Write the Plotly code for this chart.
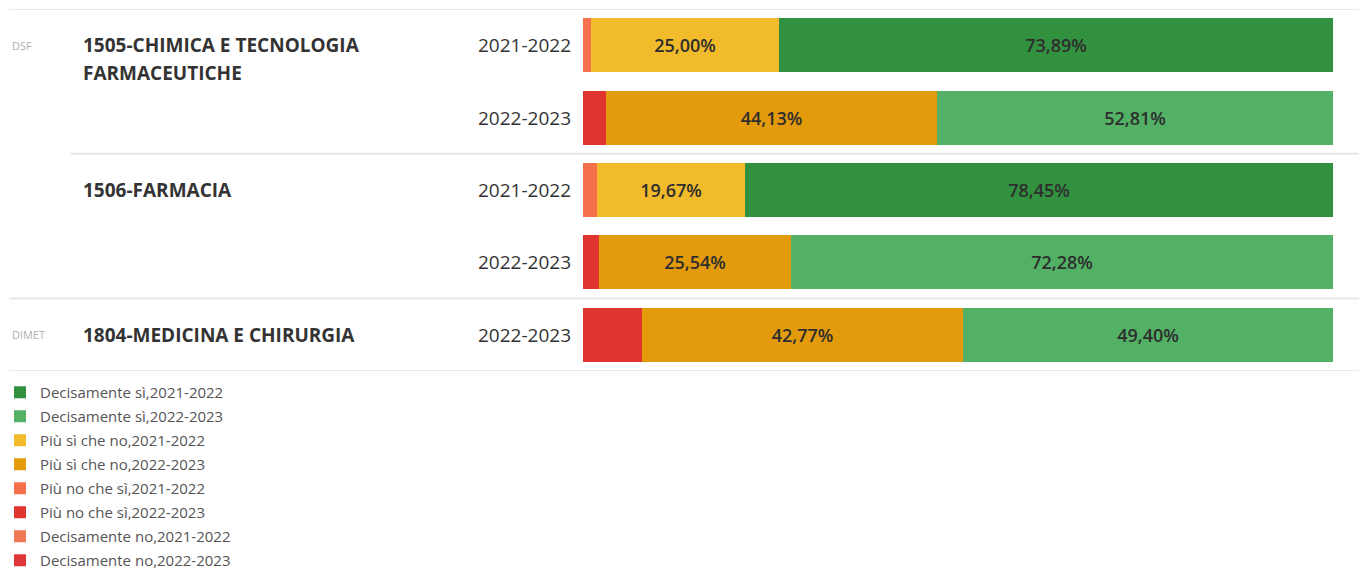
import plotly.graph_objects as go

# ---------------- data ----------------
rows = ["1505 | 2021-2022", "1505 | 2022-2023", "1506 | 2021-2022", "1506 | 2022-2023", "1804 | 2022-2023"]
row_years = ["2021-2022", "2022-2023", "2021-2022", "2022-2023", "2022-2023"]

dec_no_21 = [0, 0, 0, 0, 0]
dec_no_22 = [0, 0, 0, 0, 0]
piu_no_21 = [1.11, 0, 1.88, 0, 0]
piu_no_22 = [0, 3.06, 0, 2.18, 7.83]
piu_si_21 = [25.00, 0, 19.67, 0, 0]
piu_si_22 = [0, 44.13, 0, 25.54, 42.77]
dec_si_21 = [73.89, 0, 78.45, 0, 0]
dec_si_22 = [0, 52.81, 0, 72.28, 49.40]

programs = ["1505-CHIMICA E TECNOLOGIA", "FARMACEUTICHE", "1506-FARMACIA", "1804-MEDICINA E CHIRURGIA"]
departments = ["DSF", "DIMET"]

FONT = "Open Sans"

# ---------------- figure ----------------
# (name, values, colour, legend rank) in stacking order from left to right
series = [
    ("Decisamente no,2022-2023", dec_no_22, "#e0383a", 8),
    ("Decisamente no,2021-2022", dec_no_21, "#f07a55", 7),
    ("Più no che sì,2022-2023", piu_no_22, "#e03431", 6),
    ("Più no che sì,2021-2022", piu_no_21, "#f4714b", 5),
    ("Più sì che no,2022-2023", piu_si_22, "#e39b0c", 4),
    ("Più sì che no,2021-2022", piu_si_21, "#f1bb2b", 3),
    ("Decisamente sì,2022-2023", dec_si_22, "#52b164", 2),
    ("Decisamente sì,2021-2022", dec_si_21, "#31913f", 1),
]


def fmt(v):
    return (f"{v:.2f}".replace(".", ",") + "%") if v >= 10 else ""


fig = go.Figure()
for name, vals, color, rank in series:
    fig.add_trace(go.Bar(
        y=list(range(len(rows))), x=vals, orientation="h", name=name,
        marker=dict(color=color, line=dict(width=0)),
        text=[fmt(v) for v in vals], textposition="inside", insidetextanchor="middle",
        textfont=dict(size=18, color="#2e2e2e", family=FONT, weight=600),
        legendrank=rank, legendgroup=name, width=0.745,
        hoverinfo="skip",
    ))

fig.update_layout(
    barmode="stack",
    width=1359, height=571,
    margin=dict(l=583, r=26, t=9, b=200),
    plot_bgcolor="white", paper_bgcolor="white",
    font=dict(family=FONT, color="#333333"),
    xaxis=dict(range=[0, 100], visible=False, fixedrange=True),
    yaxis=dict(range=[4.5, -0.5], visible=False, fixedrange=True),
    showlegend=True,
    legend=dict(
        xref="container", yref="container", x=0.0, y=1 - 376 / 571,
        xanchor="left", yanchor="top",
        font=dict(size=15, color="#555555", family=FONT),
        tracegroupgap=1.5, itemwidth=30, bgcolor="rgba(0,0,0,0)",
        maxheight=1000,
    ),
    bargap=0,
)

# separators (row boundaries)
line_col = "#e8e8e8"
for yv, x0 in [(-0.5, -0.765), (1.5, -0.684), (3.5, -0.765), (4.5, -0.765)]:
    fig.add_shape(type="line", xref="paper", yref="y", x0=x0, x1=1.035, y0=yv, y1=yv,
                  line=dict(color=line_col, width=2), layer="below")

# year labels
for i, yr in enumerate(row_years):
    fig.add_annotation(xref="paper", yref="y", x=-0.014, y=i, text=yr, showarrow=False,
                       xanchor="right", yanchor="middle",
                       font=dict(size=19, color="#333333", family=FONT))

# program labels
prog_x = (81 - 583) / 750
prog_font = dict(size=19, color="#333333", family=FONT)
fig.add_annotation(xref="paper", yref="y", x=prog_x, y=0, text="<b>" + programs[0] + "</b>",
                   showarrow=False, xanchor="left", yanchor="middle", font=prog_font)
fig.add_annotation(xref="paper", yref="y", x=prog_x, y=0, yshift=-28, text="<b>" + programs[1] + "</b>",
                   showarrow=False, xanchor="left", yanchor="middle", font=prog_font)
fig.add_annotation(xref="paper", yref="y", x=prog_x, y=2, text="<b>" + programs[2] + "</b>",
                   showarrow=False, xanchor="left", yanchor="middle", font=prog_font)
fig.add_annotation(xref="paper", yref="y", x=prog_x, y=4, text="<b>" + programs[3] + "</b>",
                   showarrow=False, xanchor="left", yanchor="middle", font=prog_font)

# department labels
dep_x = (10 - 583) / 750
for dep, yv in zip(departments, [0, 4]):
    fig.add_annotation(xref="paper", yref="y", x=dep_x, y=yv, text=dep, showarrow=False,
                       xanchor="left", yanchor="middle",
                       font=dict(size=11, color="#b0b0b0", family=FONT))

fig.write_html("out.html", config={"displayModeBar": False},
               post_script="document.body.style.margin='0';")
